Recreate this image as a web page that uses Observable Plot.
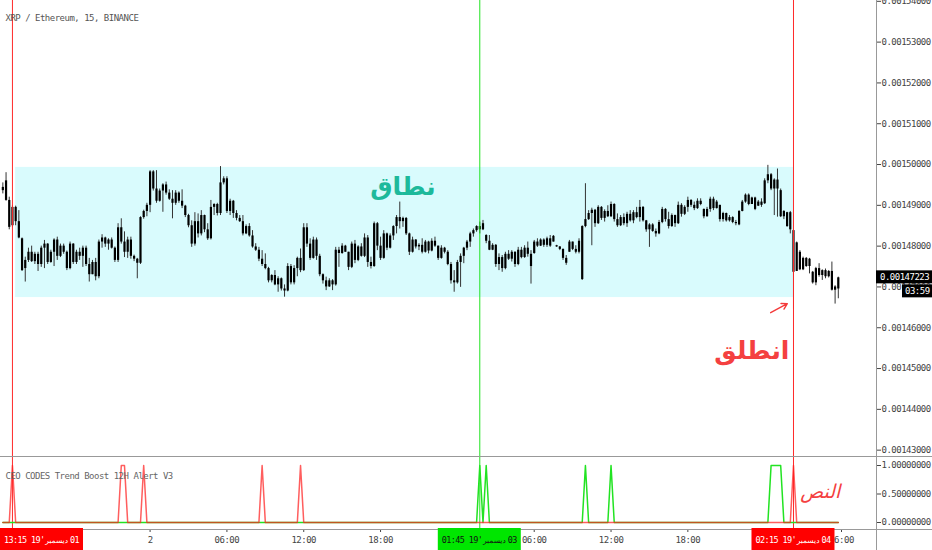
<!DOCTYPE html>
<html><head><meta charset="utf-8">
<script src="https://cdn.jsdelivr.net/npm/d3@7"></script>
<script src="https://cdn.jsdelivr.net/npm/@observablehq/plot@0.6"></script>
<style>
body{margin:0;background:#fff;}
#chart{position:relative;width:932px;height:550px;overflow:hidden;background:#fff;}
#chart svg{display:block;}
#chart svg text{letter-spacing:-0.5px;}
</style></head>
<body><div id="chart"></div>
<script>
// ---- DATA (prices in units of 1e-5 ETH) ----
const chartTitle = "XRP / Ethereum, 15, BINANCE";
const indicatorTitle = "CEO CODES Trend Boost 12H Alert V3";
const firstBar = "2019-12-01T12:30:00Z";
const barMinutes = 15;
const opens = [
149.44,149.60,149.12,148.50,148.95,148.60,148.18,147.45,147.65,147.85,
147.62,147.80,147.55,147.95,148.05,147.60,147.85,148.15,147.75,148.00,
147.85,147.45,148.05,147.60,147.85,147.75,147.95,147.55,147.30,147.60,
147.25,148.10,148.20,148.05,148.15,147.95,147.65,148.45,148.10,147.85,
148.15,147.75,147.68,147.58,148.70,148.85,149.00,149.82,149.40,149.10,
149.35,149.50,149.30,149.15,149.05,149.30,149.10,148.98,148.75,148.50,
148.05,148.60,148.30,148.75,148.40,148.18,148.95,149.02,148.80,149.55,
149.65,148.85,149.10,148.80,148.68,148.60,148.30,148.48,148.25,147.98,
147.90,147.68,147.55,147.45,147.15,147.28,147.05,147.20,146.95,146.90,
147.50,147.10,147.45,147.70,147.40,148.45,148.05,147.70,148.15,147.75,
147.30,147.15,147.00,147.15,147.05,147.90,147.82,148.00,147.85,147.48,
148.05,147.65,147.98,147.75,148.20,147.60,147.50,148.55,148.00,147.70,
148.30,147.95,148.25,148.48,148.70,148.60,148.68,148.30,147.85,148.15,
147.98,148.02,147.85,148.10,147.88,148.12,148.00,147.70,147.95,147.85,
147.55,147.15,147.10,147.60,147.75,147.95,148.10,148.30,148.38,148.48,
148.40,148.26,148.12,147.90,148.02,147.55,147.72,147.45,147.80,147.68,
147.85,147.55,147.90,147.72,147.95,147.80,147.82,148.10,148.00,148.15,
148.02,148.18,148.10,148.01,147.98,147.92,147.70,147.85,148.10,147.92,
147.85,147.18,148.48,148.65,148.80,148.88,148.55,148.95,148.68,148.85,
148.72,149.02,148.65,148.50,148.70,148.55,148.78,148.62,148.82,148.70,
148.95,148.62,148.40,148.52,148.36,148.30,148.58,148.90,148.65,148.48,
148.75,148.55,149.00,148.78,148.95,149.12,149.00,148.92,149.10,148.90,
148.72,148.90,149.15,148.92,149.00,148.65,148.80,148.62,148.70,148.58,
148.52,148.85,149.08,149.25,149.02,149.18,148.98,149.08,149.04,149.60,
149.75,149.40,149.62,149.36,148.72,148.82,148.40,148.38,147.38,147.85,
147.42,147.70,147.50,147.36,147.10,147.45,147.28,147.40,147.25,147.38,
146.92,146.95];
const highs = [
149.55,149.80,149.20,149.00,148.98,148.87,148.20,147.73,147.95,148.00,
147.85,147.85,148.00,148.14,148.06,147.90,148.18,148.22,148.05,148.05,
147.88,148.10,148.06,147.90,147.95,148.00,148.00,147.70,147.65,147.70,
148.15,148.28,148.22,148.18,148.20,147.98,148.55,148.67,148.35,148.22,
148.22,147.78,147.70,148.72,148.88,149.05,149.85,149.85,149.85,149.40,
149.53,149.57,149.38,149.36,149.36,149.33,149.38,149.00,148.78,148.62,
148.82,148.79,148.87,148.76,148.55,149.12,149.04,149.05,149.95,149.70,
149.70,149.15,149.12,148.87,148.75,148.75,148.52,148.55,148.38,148.06,
147.97,147.89,147.81,147.48,147.30,147.40,147.25,147.22,147.05,147.57,
147.55,147.52,147.73,147.93,148.55,148.55,148.18,148.22,148.20,147.80,
147.32,147.24,147.20,147.18,147.97,147.97,148.06,148.02,147.85,148.10,
148.14,148.01,148.06,148.30,148.26,147.73,148.59,148.58,148.22,148.38,
148.32,148.30,148.50,148.75,149.08,148.71,148.70,148.32,148.22,148.16,
148.06,148.18,148.14,148.12,148.18,148.22,148.00,148.01,147.97,147.89,
147.60,147.40,147.65,147.81,147.97,148.14,148.34,148.42,148.50,148.59,
148.63,148.28,148.26,148.06,148.04,147.81,147.77,147.85,147.89,147.89,
147.86,147.97,147.97,148.01,148.10,147.89,148.14,148.18,148.18,148.18,
148.22,148.26,148.26,148.02,147.99,147.93,147.77,148.14,148.10,148.01,
148.18,148.50,149.53,148.87,148.93,148.90,148.99,148.97,148.89,148.99,
149.08,149.04,148.79,148.75,148.79,148.83,148.87,148.87,148.95,149.12,
148.97,148.63,148.55,148.55,148.42,148.63,148.95,148.92,148.83,148.79,
148.76,149.08,149.04,148.99,149.20,149.14,149.08,149.16,149.16,148.91,
148.95,149.20,149.20,149.12,149.00,148.83,148.81,148.75,148.72,148.63,
148.87,149.12,149.28,149.28,149.20,149.20,149.12,149.16,149.65,149.98,
149.78,149.65,149.89,149.40,148.87,148.83,148.85,148.40,148.10,147.89,
147.73,147.72,147.70,147.38,147.48,147.57,147.42,147.44,147.40,147.61,
147.03,147.24];
const lows = [
149.28,149.10,148.40,148.45,148.50,148.18,147.38,147.12,147.60,147.60,
147.55,147.38,147.48,147.45,147.55,147.58,147.50,147.65,147.72,147.80,
147.40,147.42,147.55,147.55,147.65,147.48,147.50,147.12,147.30,147.15,
147.20,147.95,147.97,147.90,147.93,147.60,147.60,148.05,147.72,147.70,
147.68,147.62,147.20,147.55,148.66,148.72,148.82,149.35,149.05,149.08,
148.83,149.25,149.12,148.67,149.00,149.05,148.92,148.70,148.45,147.97,
148.00,148.20,148.25,148.33,148.14,148.15,148.75,148.74,148.75,149.50,
148.80,148.75,148.68,148.62,148.58,148.25,148.28,148.22,147.95,147.87,
147.62,147.50,147.42,147.10,147.10,147.03,146.87,146.90,146.75,146.88,
147.05,147.05,147.25,147.35,147.38,147.97,147.65,147.68,147.65,147.25,
147.07,146.91,146.99,146.91,147.02,147.48,147.80,147.85,147.40,147.45,
147.57,147.62,147.73,147.72,147.48,147.44,147.48,147.89,147.65,147.68,
147.89,147.93,148.14,148.30,148.42,148.46,148.26,147.77,147.83,147.93,
147.89,147.81,147.83,147.81,147.86,147.97,147.65,147.68,147.81,147.52,
147.07,146.87,147.07,146.99,147.57,147.89,147.97,148.22,148.34,148.30,
148.38,148.06,147.89,147.89,147.48,147.40,147.36,147.42,147.65,147.61,
147.48,147.52,147.69,147.70,147.73,147.07,147.80,147.97,147.99,147.97,
147.97,147.97,148.10,147.97,147.89,147.65,147.53,147.85,147.89,147.81,
147.81,147.16,148.45,148.63,148.01,148.46,148.53,148.63,148.59,148.70,
148.70,148.59,148.46,148.48,148.50,148.46,148.59,148.55,148.67,148.59,
148.59,148.34,147.97,148.34,148.22,148.28,148.55,148.59,148.42,148.46,
148.46,148.53,148.71,148.75,148.83,148.95,148.87,148.90,148.99,148.67,
148.71,148.83,148.87,148.91,148.59,148.59,148.59,148.59,148.55,148.50,
148.50,148.84,149.05,148.99,149.02,148.87,148.97,148.95,149.02,149.53,
149.36,148.75,148.71,148.70,148.65,148.46,148.30,146.45,147.38,147.40,
147.40,147.48,147.32,147.07,147.03,147.24,147.16,147.20,147.22,146.90,
146.58,146.71];
const closes = [
149.36,149.12,148.46,148.95,148.60,148.20,147.40,147.65,147.85,147.62,
147.80,147.55,147.95,148.05,147.60,147.85,148.15,147.75,148.00,147.85,
147.45,148.05,147.60,147.85,147.75,147.95,147.55,147.30,147.60,147.25,
148.10,148.20,148.05,148.15,147.95,147.65,148.45,148.10,147.85,148.15,
147.75,147.68,147.58,148.70,148.85,149.00,149.82,149.40,149.10,149.35,
149.50,149.30,149.15,149.05,149.30,149.10,148.98,148.75,148.50,148.05,
148.60,148.30,148.75,148.40,148.18,148.95,149.02,148.80,149.55,149.65,
148.85,149.10,148.80,148.68,148.60,148.30,148.48,148.25,147.98,147.90,
147.68,147.55,147.45,147.15,147.28,147.05,147.20,146.95,146.90,147.50,
147.10,147.45,147.70,147.40,148.45,148.05,147.70,148.15,147.75,147.30,
147.15,147.00,147.15,147.05,147.90,147.82,148.00,147.85,147.48,148.05,
147.65,147.98,147.75,148.20,147.60,147.50,148.55,148.00,147.70,148.30,
147.95,148.25,148.48,148.70,148.60,148.68,148.30,147.85,148.15,147.98,
148.02,147.85,148.10,147.88,148.12,148.00,147.70,147.95,147.85,147.55,
147.15,147.10,147.60,147.75,147.95,148.10,148.30,148.38,148.48,148.40,
148.55,148.12,147.90,148.02,147.55,147.72,147.45,147.80,147.68,147.85,
147.55,147.90,147.72,147.95,147.80,147.50,148.10,148.00,148.15,148.02,
148.18,148.00,148.24,147.98,147.92,147.70,147.58,148.10,147.92,147.85,
148.12,148.48,148.65,148.80,148.88,148.55,148.95,148.68,148.85,148.72,
149.02,148.65,148.50,148.70,148.55,148.78,148.62,148.82,148.70,148.95,
148.62,148.40,148.52,148.36,148.30,148.58,148.90,148.65,148.48,148.75,
148.55,149.00,148.78,148.95,149.12,149.00,148.92,149.10,149.02,148.72,
148.90,149.15,148.92,149.08,148.65,148.80,148.62,148.70,148.58,148.55,
148.85,149.08,149.25,149.02,149.18,148.90,149.08,149.00,149.60,149.75,
149.40,149.62,149.40,148.72,148.85,148.48,148.82,147.36,148.08,147.42,
147.70,147.50,147.68,147.10,147.45,147.28,147.40,147.25,147.38,146.92,
147.00,147.223];
const priceTicks = [143,144,145,146,147,148,149,150,151,152,153,154];
const rangeStart = "2019-12-01T13:30:00Z", rangeEnd = "2019-12-04T02:20:00Z";
const rangeLow = 146.74, rangeHigh = 149.93;
const redSignals = ["2019-12-01T13:15:00Z","2019-12-01T21:45:00Z","2019-12-01T22:00:00Z","2019-12-01T23:30:00Z","2019-12-02T08:45:00Z","2019-12-02T11:45:00Z","2019-12-04T02:15:00Z"];
const greenSignals = ["2019-12-03T01:45:00Z","2019-12-03T02:15:00Z","2019-12-03T10:00:00Z","2019-12-03T12:00:00Z","2019-12-04T00:30:00Z","2019-12-04T00:45:00Z","2019-12-04T01:00:00Z","2019-12-04T01:15:00Z"];
const markerTimes = ["2019-12-01T13:15:00Z","2019-12-03T01:45:00Z","2019-12-04T02:15:00Z"];
const markerColors = ["#ff2a2a","#22e322","#ff2a2a"];
const markerFill = ["#ff0000","#00e600","#ff0000"];
const markerInk = ["#ffffff","#111111","#ffffff"];
const markerClock = ["13:15","01:45","02:15"];
const markerDay = ["01","03","04"];
const markerYear = "19'";
const markerMonth = "ديسمبر";
// day-change ticks (Dec 3, Dec 4) sit under the flags and are not shown
const timeTicks = ["2019-12-02T00:00:00Z","2019-12-02T06:00:00Z","2019-12-02T12:00:00Z","2019-12-02T18:00:00Z","2019-12-03T06:00:00Z","2019-12-03T12:00:00Z","2019-12-03T18:00:00Z","2019-12-04T06:00:00Z"];
const xDomainText = ["2019-12-01T12:19:00Z","2019-12-04T08:44:00Z"];
const countdown = "03:59";
const notes = [
  {t:"2019-12-02T19:45:00Z", p:149.46, text:"نطاق", color:"#1db99b", size:25},
  {t:"2019-12-03T23:00:00Z", p:145.42, text:"انطلق", color:"#f44040", size:25}
];
const arrowFrom = {t:"2019-12-04T00:28:00Z", p:146.37};
const arrowTo = {t:"2019-12-04T01:46:00Z", p:146.59};
const indicatorNote = {t:"2019-12-04T04:20:00Z", v:0.54, text:"النص"};

// ---- BUILD ----
const FONT = "'DejaVu Sans Mono', monospace";
const AR = "'DejaVu Sans', sans-serif";
const t0 = new Date(firstBar).getTime();
const step = barMinutes*60000;
const candles = closes.map((c,k)=>({t:new Date(t0+k*step), o:opens[k], h:highs[k], l:lows[k], c}));
const redSet = new Set(redSignals.map(s=>+new Date(s)));
const greenSet = new Set(greenSignals.map(s=>+new Date(s)));
const ind = candles.map(d=>({t:d.t, r:redSet.has(+d.t)?1:0, g:greenSet.has(+d.t)?1:0}));
const xDomain = xDomainText.map(s=>new Date(s));
const markers = markerTimes.map((s,i)=>({t:new Date(s), stroke:markerColors[i], fill:markerFill[i], ink:markerInk[i], clock:markerClock[i], day:markerDay[i]}));
const redMarkers = markers.filter(m=>m.stroke==="#ff2a2a");
const greenMarkers = markers.filter(m=>m.stroke!=="#ff2a2a");
const notesD = notes.map(n=>({...n, t:new Date(n.t)}));

const main = Plot.plot({
  width:932, height:457, marginLeft:0, marginRight:56, marginTop:0, marginBottom:0,
  style:{fontFamily:FONT, fontSize:"9px", color:"#444", background:"#fff"},
  x:{type:"utc", domain:xDomain, axis:null},
  y:{domain:[142.82,154.02], axis:"right", ticks:priceTicks, tickFormat:d=>(d/1e5).toFixed(8), tickSize:4, tickPadding:1, label:null},
  marks:[
    Plot.rect([{a:new Date(rangeStart), b:new Date(rangeEnd), lo:rangeLow, hi:rangeHigh}], {x1:"a", x2:"b", y1:"lo", y2:"hi", fill:"#d9fbfd"}),
    Plot.ruleX(candles, {x:"t", y1:"l", y2:"h", stroke:"#333", strokeWidth:1}),
    Plot.ruleX(candles, {x:"t", y1:"o", y2:"c", stroke:"#000", strokeWidth:2.2}),
    Plot.ruleX(redMarkers, {x:"t", stroke:"#ff2a2a", strokeWidth:1}),
    Plot.ruleX(greenMarkers, {x:"t", stroke:"#22e322", strokeWidth:1}),
    Plot.text(notesD, {x:"t", y:"p", text:"text", fill:"color", fontSize:"size", fontWeight:"bold", fontFamily:AR}),
    Plot.arrow([{x1:new Date(arrowFrom.t), y1:arrowFrom.p, x2:new Date(arrowTo.t), y2:arrowTo.p}], {x1:"x1", y1:"y1", x2:"x2", y2:"y2", stroke:"#f43a3a", strokeWidth:1.4, headLength:7, bend:0}),
    Plot.text([chartTitle], {frameAnchor:"top-left", dx:5, dy:14, text:d=>d, fill:"#555", textAnchor:"start"})
  ]
});

const indp = Plot.plot({
  width:932, height:93, marginLeft:0, marginRight:56, marginTop:0, marginBottom:21,
  style:{fontFamily:FONT, fontSize:"9px", color:"#444", background:"#fff"},
  x:{type:"utc", domain:xDomain, ticks:timeTicks.map(s=>new Date(s)), tickFormat:d=>d.getUTCHours()===0 ? String(d.getUTCDate()) : d3.utcFormat("%H:%M")(d), tickSize:3, tickPadding:4, label:null},
  y:{domain:[-0.1228,1.1404], axis:"right", ticks:[0,0.5,1], tickFormat:d=>d.toFixed(8), tickSize:4, tickPadding:1, label:null},
  marks:[
    Plot.ruleX(redMarkers, {x:"t", stroke:"#ff2a2a", strokeWidth:1}),
    Plot.ruleX(greenMarkers, {x:"t", stroke:"#22e322", strokeWidth:1}),
    Plot.line(ind, {x:"t", y:"g", stroke:"#22e322", strokeWidth:1.5}),
    Plot.line(ind, {x:"t", y:"r", stroke:"#ff2020", strokeWidth:1.5, strokeOpacity:0.72}),
    Plot.text([indicatorTitle], {frameAnchor:"top-left", dx:5, dy:15, text:d=>d, fill:"#666", textAnchor:"start"}),
    Plot.text([indicatorNote], {x:d=>new Date(d.t), y:"v", text:"text", fill:"#f44040", fontSize:19, fontStyle:"italic", fontFamily:AR})
  ]
});

const root = document.getElementById("chart");
root.appendChild(main);
root.appendChild(indp);

// frame lines, price flag, time flags (positioned via the plots' own scales)
const sm = d3.select(main), si = d3.select(indp);
const axisX = 876.5;
sm.append("line").attr("x1",axisX).attr("x2",axisX).attr("y1",0).attr("y2",457).attr("stroke","#999");
sm.append("line").attr("x1",0).attr("x2",932).attr("y1",456.5).attr("y2",456.5).attr("stroke","#999");
si.append("line").attr("x1",axisX).attr("x2",axisX).attr("y1",0).attr("y2",93).attr("stroke","#999");
si.append("line").attr("x1",0).attr("x2",932).attr("y1",72.5).attr("y2",72.5).attr("stroke","#999");

const yS = main.scale("y");
const last = closes[closes.length-1];
const py = yS.apply(last);
sm.append("rect").attr("x",876).attr("y",py-7).attr("width",56).attr("height",13).attr("fill","#000");
sm.append("text").attr("x",880).attr("y",py+3).attr("fill","#fff").attr("font-size",9).attr("text-anchor","start").text((last/1e5).toFixed(8));
sm.append("rect").attr("x",902).attr("y",py+7).attr("width",30).attr("height",13).attr("fill","#000");
sm.append("text").attr("x",905).attr("y",py+17).attr("fill","#fff").attr("font-size",9).attr("text-anchor","start").text(countdown);

const xS = indp.scale("x");
for (const m of markers) {
  const cx = xS.apply(m.t);
  const w = 83;
  const left = Math.max(0, Math.min(876 - w, cx - w/2));
  const g = si.append("g").attr("text-anchor","start");
  g.append("rect").attr("x",left).attr("y",71).attr("width",w).attr("height",22).attr("fill",m.fill);
  g.append("text").attr("x",left+4).attr("y",86).attr("fill",m.ink).attr("font-size",8.5).style("letter-spacing","-0.6px").text(m.clock);
  g.append("text").attr("x",left+31).attr("y",86).attr("fill",m.ink).attr("font-size",8.5).style("letter-spacing","-0.6px").text(markerYear);
  g.append("text").attr("x",left+68).attr("y",86).attr("fill",m.ink).attr("font-size",7.5).attr("text-anchor","end").attr("font-family",AR).text(markerMonth);
  g.append("text").attr("x",left+70).attr("y",86).attr("fill",m.ink).attr("font-size",8.5).style("letter-spacing","-0.6px").text(m.day);
}

d3.selectAll("#chart text").filter(function(){return /[\u0600-\u06FF]/.test(this.textContent);}).style("letter-spacing","0");
</script>
</body></html>
